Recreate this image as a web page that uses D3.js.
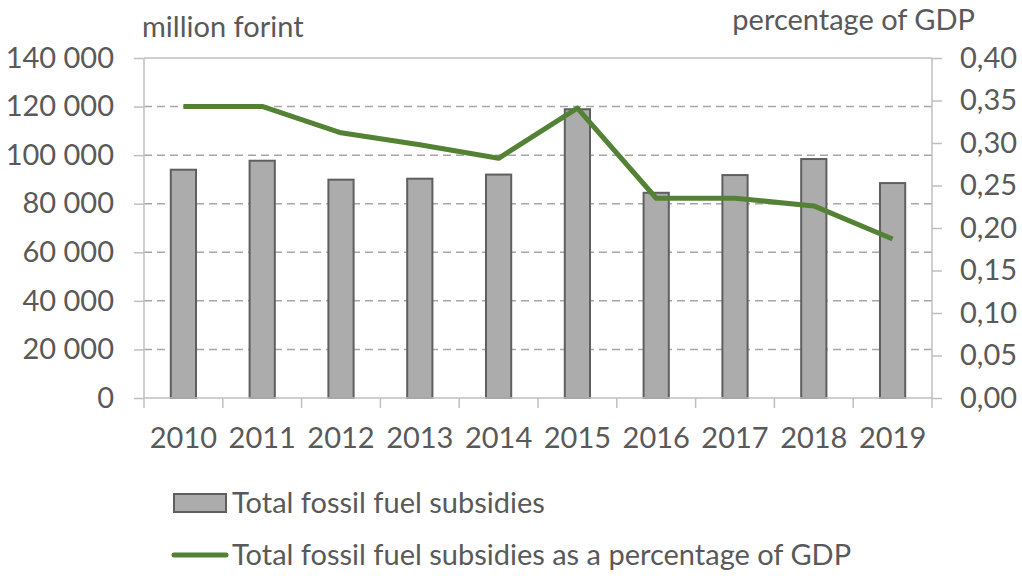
<!DOCTYPE html>
<html><head><meta charset="utf-8">
<script src="https://cdn.jsdelivr.net/npm/d3@7"></script>
<style>body{margin:0;background:#fff}text{font-family:Lato,"Open Sans",sans-serif;fill:#595959}</style>
</head><body><svg id="c" width="1022" height="576"></svg>
<script>
const years = ["2010","2011","2012","2013","2014","2015","2016","2017","2018","2019"];
const subsidies = [94000, 97700, 89900, 90300, 92000, 118900, 84500, 91800, 98400, 88500];
const pctGDP = [0.343, 0.343, 0.312, 0.298, 0.282, 0.341, 0.235, 0.235, 0.226, 0.187];
const leftTicks = [0,20000,40000,60000,80000,100000,120000,140000];
const rightTicks = [0,0.05,0.10,0.15,0.20,0.25,0.30,0.35,0.40];
const legendLabels = ["Total fossil fuel subsidies","Total fossil fuel subsidies as a percentage of GDP"];

const FS = "29px";
const svg = d3.select("#c");
const L=144,R=932,T=58,B=398;
const x = d3.scaleBand().domain(years).range([L,R]);
const yL = d3.scaleLinear().domain([0,140000]).range([B,T]);
const yR = d3.scaleLinear().domain([0,0.4]).range([B,T]);
const fmtL = d => d3.format(",")(d).replace(/,/g," ");
const fmtR = d => d.toFixed(2).replace(".",",");
const axisCol="#bfbfbf";

// gridlines
svg.append("g").selectAll("line").data(leftTicks.filter(d=>d>0)).join("line")
  .attr("x1",L).attr("x2",R).attr("y1",d=>yL(d)).attr("y2",d=>yL(d))
  .attr("stroke",d=>d===140000?axisCol:"#a6a6a6").attr("stroke-width",1.5)
  .attr("stroke-dasharray",d=>d===140000?null:"8,5");

// bars
const bw = x.bandwidth()*0.32;
svg.append("g").selectAll("rect").data(years).join("rect")
  .attr("x",(d)=>x(d)+x.bandwidth()/2-bw/2).attr("width",bw)
  .attr("y",(d,i)=>yL(subsidies[i])).attr("height",(d,i)=>B-yL(subsidies[i]))
  .attr("fill","#acacac").attr("stroke","#5f5f5f").attr("stroke-width",2);

// axes
const gl = svg.append("g").attr("transform",`translate(${L},0)`)
  .call(d3.axisLeft(yL).tickValues(leftTicks).tickFormat(fmtL).tickSize(10).tickPadding(20));
const gr = svg.append("g").attr("transform",`translate(${R},0)`)
  .call(d3.axisRight(yR).tickValues(rightTicks).tickFormat(fmtR).tickSize(10).tickPadding(18));
const gx = svg.append("g").attr("transform",`translate(0,${B})`)
  .call(d3.axisBottom(x).tickSize(0).tickPadding(29));
svg.append("g").selectAll("line").data(d3.range(years.length+1)).join("line")
  .attr("x1",i=>L+i*x.step()).attr("x2",i=>L+i*x.step()).attr("y1",B).attr("y2",B+10)
  .attr("stroke",axisCol).attr("stroke-width",1.5);
[gl,gr,gx].forEach(g=>{
  g.selectAll(".domain").attr("stroke",axisCol).attr("stroke-width",1.5);
  g.selectAll(".tick line").attr("stroke",axisCol).attr("stroke-width",1.5);
  g.selectAll("text").style("font-size",FS).style("font-family","Lato,'Open Sans',sans-serif").attr("fill","#595959");
});
gl.select(".domain").attr("d",`M0,${T}V${B}`);
gr.select(".domain").attr("d",`M0,${T}V${B}`);
gx.select(".domain").attr("d",`M${L},0H${R}`);

// line
const line = d3.line().x((d,i)=>x(years[i])+x.bandwidth()/2).y(d=>yR(d));
svg.append("path").datum(pctGDP).attr("d",line).attr("fill","none")
  .attr("stroke","#548235").attr("stroke-width",5).attr("stroke-linejoin","round");

// axis titles
svg.append("text").attr("x",142).attr("y",37).style("font-size",FS).text("million forint");
svg.append("text").attr("x",975).attr("y",30).attr("text-anchor","end").style("font-size",FS).text("percentage of GDP");

// legend
svg.append("rect").attr("x",174).attr("y",494).attr("width",52).attr("height",18)
  .attr("fill","#acacac").attr("stroke","#5f5f5f").attr("stroke-width",2);
svg.append("text").attr("x",232).attr("y",513).style("font-size",FS).text(legendLabels[0]);
svg.append("line").attr("x1",174).attr("x2",226).attr("y1",555).attr("y2",555)
  .attr("stroke","#548235").attr("stroke-width",5).attr("stroke-linecap","round");
svg.append("text").attr("x",232).attr("y",565).style("font-size",FS).text(legendLabels[1]);
</script></body></html>
